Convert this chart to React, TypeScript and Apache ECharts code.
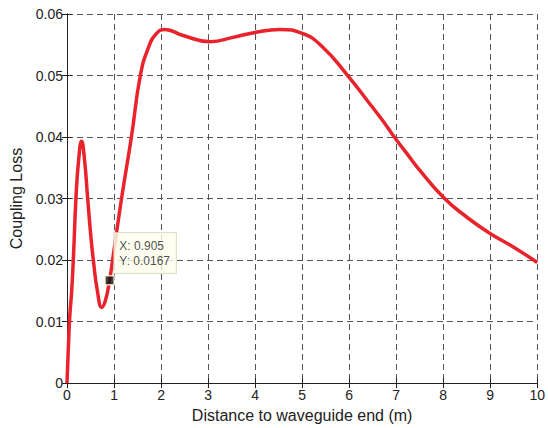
import React, { useEffect, useRef } from "react";
import * as echarts from "echarts";

const distance = [0, 0.03, 0.06, 0.1, 0.14, 0.19, 0.25, 0.31, 0.37, 0.44, 0.5, 0.56, 0.65, 0.74, 0.82, 0.905, 0.97, 1.16, 1.37, 1.56, 1.73, 1.9, 2.08, 2.47, 3.05, 3.53, 4.0, 4.52, 5.02, 5.44, 5.97, 6.43, 6.72, 6.96, 7.23, 7.49, 8.03, 8.5, 8.98, 9.5, 10];
const loss = [0, 0.006, 0.011, 0.015, 0.021, 0.03, 0.0365, 0.0393, 0.0365, 0.03, 0.0245, 0.02, 0.0148, 0.0123, 0.0135, 0.0167, 0.02, 0.03, 0.04, 0.05, 0.0545, 0.0568, 0.0575, 0.0565, 0.0555, 0.0562, 0.057, 0.0575, 0.0568, 0.0546, 0.05, 0.0455, 0.0426, 0.04, 0.0373, 0.0347, 0.03, 0.027, 0.0244, 0.0221, 0.0196];
const dataTip = [0.905, 0.0167];
const xTicks = [0, 1, 2, 3, 4, 5, 6, 7, 8, 9, 10];
const yTicks = [0, 0.01, 0.02, 0.03, 0.04, 0.05, 0.06];

const FONT = "'Liberation Sans', Arial, Helvetica, sans-serif";

export default function App() {
  const ref = useRef<HTMLDivElement>(null);
  useEffect(() => {
    if (!ref.current) return;
    const chart = echarts.init(ref.current, null, { renderer: "svg" });
    const gridLine = { show: true, lineStyle: { color: "#555", type: [6, 4] as any, width: 1 } };
    const axisLine = { show: true, lineStyle: { color: "#222", width: 1 } };
    const tick = { show: true, inside: true, length: 5, lineStyle: { color: "#222" } };
    chart.setOption({
      animation: false,
      backgroundColor: "#ffffff",
      grid: { left: 67, top: 14, width: 471, height: 370, containLabel: false },
      xAxis: [
        {
          type: "value",
          min: xTicks[0],
          max: xTicks[xTicks.length - 1],
          interval: 1,
          name: "Distance to waveguide end (m)",
          nameLocation: "middle",
          nameGap: 21,
          nameTextStyle: { fontFamily: FONT, fontSize: 16, color: "#222" },
          axisLine,
          axisTick: tick,
          axisLabel: { margin: 5, fontFamily: FONT, fontSize: 14, color: "#222" },
          splitLine: gridLine,
        },
        {
          type: "value",
          position: "top",
          min: xTicks[0],
          max: xTicks[xTicks.length - 1],
          interval: 1,
          axisLine,
          axisTick: tick,
          axisLabel: { show: false },
          splitLine: { show: false },
        },
      ],
      yAxis: [
        {
          type: "value",
          min: yTicks[0],
          max: yTicks[yTicks.length - 1],
          interval: 0.01,
          name: "Coupling Loss",
          nameLocation: "middle",
          nameGap: 40,
          nameTextStyle: { fontFamily: FONT, fontSize: 16, color: "#222" },
          axisLine,
          axisTick: tick,
          axisLabel: {
            margin: 4,
            fontFamily: FONT,
            fontSize: 14,
            color: "#222",
            formatter: (v: number) => (v === 0 ? "0" : v.toFixed(2)),
          },
          splitLine: gridLine,
        },
        {
          type: "value",
          position: "right",
          min: yTicks[0],
          max: yTicks[yTicks.length - 1],
          interval: 0.01,
          axisLine,
          axisTick: tick,
          axisLabel: { show: false },
          splitLine: { show: false },
        },
      ],
      series: [
        {
          type: "line",
          data: distance.map((d, i) => [d, loss[i]]),
          smooth: 0.5,
          showSymbol: false,
          symbol: "none",
          lineStyle: { color: "#e8232b", width: 3.5 },
          z: 3,
        },
        {
          type: "scatter",
          data: [dataTip],
          symbol: "rect",
          symbolSize: 9,
          itemStyle: { color: "#111", borderColor: "#fffbe0", borderWidth: 1.5 },
          z: 5,
          label: {
            show: true,
            position: [10, -42],
            align: "left",
            verticalAlign: "top",
            formatter: () => `X: ${dataTip[0]}\nY: ${dataTip[1]}`,
            fontFamily: FONT,
            fontSize: 12,
            lineHeight: 15,
            color: "#222",
            backgroundColor: "#ffffee",
            borderColor: "#d8d8c0",
            borderWidth: 1,
            padding: [5, 6, 5, 5],
          },
        },
      ],
    });
    return () => chart.dispose();
  }, []);
  return (
    <div
      ref={ref}
      style={{ position: "fixed", left: 0, top: 0, width: 548, height: 428 }}
    />
  );
}
